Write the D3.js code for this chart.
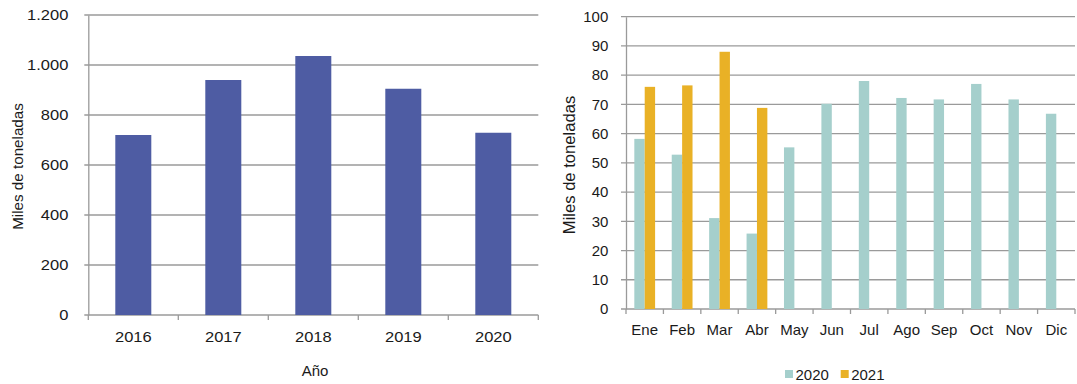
<!DOCTYPE html>
<html><head><meta charset="utf-8">
<script src="https://cdn.jsdelivr.net/npm/d3@7"></script>
<style>
body{margin:0;background:#fff;}
svg{display:block;font-family:"Liberation Sans",Arial,Helvetica,sans-serif;}
</style></head>
<body><svg id="c" width="1077" height="384"></svg>
<script>
// Left chart data
const years = ["2016","2017","2018","2019","2020"];
const yearValues = [720, 940, 1036, 905, 729];
const leftTicks = [0,200,400,600,800,1000,1200];
// Right chart data
const months = ["Ene","Feb","Mar","Abr","May","Jun","Jul","Ago","Sep","Oct","Nov","Dic"];
const series = ["2020","2021"];
const values2020 = [58.2,52.8,31.1,25.8,55.3,70.2,78.0,72.2,71.7,77.0,71.7,66.8];
const values2021 = [76.0,76.5,88.0,68.8,null,null,null,null,null,null,null,null];
const rightTicks = [0,10,20,30,40,50,60,70,80,90,100];

const colors = {bar:"#4e5ca3", s2020:"#a5cfcc", s2021:"#e9b126", grid:"#9a9a9a", text:"#1a1a1a"};
const svg = d3.select("#c");
const fmt = d => d3.format(",")(d).replace(/,/g,".");

// ---------- LEFT ----------
{
  const L = {l:88.3, r:538.3, t:15, b:315};
  const x = d3.scaleBand().domain(years).range([L.l,L.r]).paddingInner(0.6).paddingOuter(0.3);
  const y = d3.scaleLinear().domain([0,1200]).range([L.b,L.t]);
  const g = svg.append("g");
  g.append("g").selectAll("line").data(leftTicks).join("line")
    .attr("x1",L.l-4).attr("x2",L.r).attr("y1",d=>y(d)).attr("y2",d=>y(d))
    .attr("stroke",colors.grid).attr("stroke-width",1.3);
  g.append("g").selectAll("rect").data(years).join("rect")
    .attr("x",d=>x(d)).attr("width",x.bandwidth())
    .attr("y",(d,i)=>y(yearValues[i])).attr("height",(d,i)=>y(0)-y(yearValues[i]))
    .attr("fill",colors.bar);
  // y axis
  const ya = g.append("g").attr("transform",`translate(${L.l},0)`)
    .call(d3.axisLeft(y).tickValues(leftTicks).tickFormat(fmt).tickSize(0).tickSizeOuter(0).tickPadding(20));
  ya.select(".domain").attr("stroke",colors.grid).attr("stroke-width",1.3);
  ya.selectAll("text").attr("font-size",15).attr("fill",colors.text)
    .attr("transform","scale(1.1,1)").attr("x",-20/1.1);
  // x category ticks
  const bounds = d3.range(years.length+1).map(i=>L.l+i*x.step());
  g.append("g").selectAll("line").data(bounds).join("line")
    .attr("x1",d=>d).attr("x2",d=>d).attr("y1",L.b).attr("y2",L.b+5)
    .attr("stroke",colors.grid).attr("stroke-width",1.3);
  const xa = g.append("g").attr("transform",`translate(0,${L.b})`)
    .call(d3.axisBottom(x).tickSize(0).tickPadding(16.6));
  xa.select(".domain").remove();
  xa.selectAll("text").attr("font-size",15).attr("fill",colors.text).attr("transform","scale(1.1,1)");
  g.append("text").attr("x",315).attr("y",370).attr("text-anchor","middle").attr("dominant-baseline","central")
    .attr("font-size",15).attr("fill",colors.text).text("Año");
  g.append("text").attr("transform","translate(17.3,166.5) rotate(-90)").attr("text-anchor","middle")
    .attr("dominant-baseline","central").attr("font-size",15.2).attr("fill",colors.text).text("Miles de toneladas");
}

// ---------- RIGHT ----------
{
  const R = {l:626, r:1075, t:16.7, b:309};
  const x = d3.scaleBand().domain(months).range([R.l,R.r]).padding(0);
  const xs = d3.scaleBand().domain(series).range([0,x.bandwidth()]).paddingInner(0).paddingOuter(0.8);
  const y = d3.scaleLinear().domain([0,100]).range([R.b,R.t]);
  const g = svg.append("g");
  g.append("g").selectAll("line").data(rightTicks).join("line")
    .attr("x1",R.l-5).attr("x2",R.r).attr("y1",d=>y(d)).attr("y2",d=>y(d))
    .attr("stroke",colors.grid).attr("stroke-width",1.3);
  const sdata = [{k:"2020",v:values2020,c:colors.s2020},{k:"2021",v:values2021,c:colors.s2021}];
  sdata.forEach(s=>{
    g.append("g").selectAll("rect").data(months.map((m,i)=>({m,v:s.v[i]})).filter(d=>d.v!=null)).join("rect")
      .attr("x",d=>x(d.m)+xs(s.k)).attr("width",xs.bandwidth())
      .attr("y",d=>y(d.v)).attr("height",d=>y(0)-y(d.v)).attr("fill",s.c);
  });
  const ya = g.append("g").attr("transform",`translate(${R.l},0)`)
    .call(d3.axisLeft(y).tickValues(rightTicks).tickSize(0).tickSizeOuter(0).tickPadding(17.7));
  ya.select(".domain").attr("stroke",colors.grid).attr("stroke-width",1.3);
  ya.selectAll("text").attr("font-size",15).attr("fill",colors.text);
  const bounds = d3.range(months.length+1).map(i=>R.l+i*x.step());
  g.append("g").selectAll("line").data(bounds).join("line")
    .attr("x1",d=>d).attr("x2",d=>d).attr("y1",R.b).attr("y2",R.b+5)
    .attr("stroke",colors.grid).attr("stroke-width",1.3);
  const xa = g.append("g").attr("transform",`translate(0,${R.b})`)
    .call(d3.axisBottom(x).tickSize(0).tickPadding(15.6));
  xa.select(".domain").remove();
  xa.selectAll("text").attr("font-size",15).attr("fill",colors.text);
  g.append("text").attr("transform","translate(569.3,165) rotate(-90)").attr("text-anchor","middle")
    .attr("dominant-baseline","central").attr("font-size",16.6).attr("fill",colors.text).text("Miles de toneladas");
  // legend
  const leg = g.append("g");
  const lx = [785, 840.7];
  sdata.forEach((s,i)=>{
    leg.append("rect").attr("x",lx[i]).attr("y",370).attr("width",8).attr("height",8).attr("fill",s.c);
    leg.append("text").attr("x",lx[i]+10.5).attr("y",374.5).attr("dominant-baseline","central")
      .attr("font-size",15).attr("fill",colors.text).text(s.k);
  });
}
</script></body></html>
